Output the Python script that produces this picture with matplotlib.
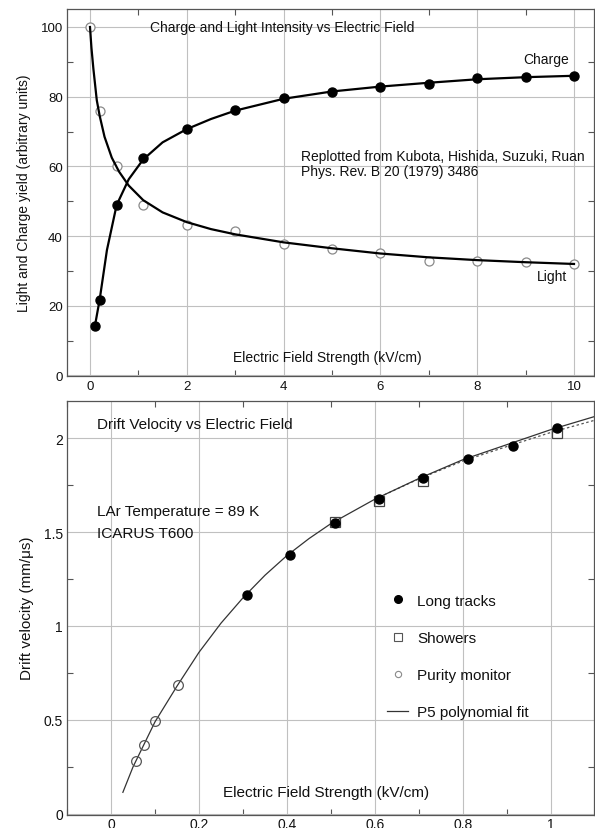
import matplotlib
matplotlib.use('Agg')
import matplotlib.pyplot as plt
from matplotlib.lines import Line2D
from matplotlib.ticker import MultipleLocator, FuncFormatter

plt.rcParams['font.family'] = ['Liberation Sans', 'DejaVu Sans']

# ---- top panel: charge / light yield vs field (Kubota et al.)
charge_x = [0.1, 0.2, 0.55, 1.1, 2, 3, 4, 5, 6, 7, 8, 9, 10]
charge_y = [14.1, 21.8, 48.9, 62.4, 70.7, 76.2, 79.6, 81.3, 82.7, 83.6, 85.4, 85.6, 86.0]

light_x = [0, 0.2, 0.55, 1.1, 2, 3, 4, 5, 6, 7, 8, 9, 10]
light_y = [100, 75.8, 60.2, 48.9, 43.2, 41.6, 37.7, 36.3, 35.2, 32.9, 32.9, 32.7, 32.0]

# curves drawn through the data
charge_fit_x = [0.1, 0.2, 0.35, 0.55, 0.8, 1.1, 1.5, 2, 2.5, 3, 4, 5, 6, 7, 8, 9, 10]
charge_fit_y = [14.1, 21.8, 36.0, 48.9, 56.3, 62.0, 66.9, 70.7, 73.6, 76.0, 79.4, 81.5, 82.9, 84.0, 85.0, 85.6, 86.0]
light_fit_x = [0, 0.03, 0.07, 0.14, 0.2, 0.3, 0.45, 0.6, 0.8, 1.1, 1.5, 2, 2.5, 3, 4, 5, 6, 7, 8, 9, 10]
light_fit_y = [100, 94, 88, 79, 74.5, 68.5, 62.5, 58.5, 54.5, 50.3, 46.8, 44.0, 42.0, 40.5, 38.2, 36.5, 35.0, 33.9, 33.1, 32.5, 32.0]

# ---- bottom panel: drift velocity vs field (ICARUS T600)
tracks_x = [0.308, 0.407, 0.508, 0.608, 0.71, 0.812, 0.913, 1.013]
tracks_y = [1.163, 1.378, 1.546, 1.676, 1.787, 1.888, 1.959, 2.052]

showers_x = [0.508, 0.608, 0.71, 1.013]
showers_y = [1.555, 1.663, 1.773, 2.027]

purity_x = [0.057, 0.076, 0.101, 0.153]
purity_y = [0.280, 0.369, 0.493, 0.688]

p5_x = [0.027, 0.05, 0.075, 0.1, 0.15, 0.2, 0.25, 0.3, 0.35, 0.4, 0.45, 0.5,
        0.6, 0.7, 0.8, 0.9, 1.0, 1.1]
p5_y = [0.115, 0.25, 0.37, 0.49, 0.68, 0.86, 1.015, 1.15, 1.27, 1.375, 1.465, 1.545,
        1.675, 1.785, 1.885, 1.965, 2.045, 2.115]
p5b_x = [0.6, 0.7, 0.8, 0.9, 1.0, 1.1]
p5b_y = [1.675, 1.783, 1.878, 1.955, 2.03, 2.095]

fig = plt.figure(figsize=(5.95, 8.29), dpi=100)
W, H = 595.0, 829.0

grid_c = '#c0c0c0'
spine_c = '#555555'
txt_c = '#111111'


def style(ax, lsize):
    ax.grid(True, which='major', color=grid_c, lw=0.8)
    ax.set_axisbelow(True)
    for s in ax.spines.values():
        s.set_color(spine_c)
        s.set_linewidth(0.9)
    ax.tick_params(which='both', direction='in', top=True, right=True, colors=spine_c,
                   labelcolor=txt_c, labelsize=lsize, pad=3)
    ax.tick_params(which='major', length=0)
    ax.tick_params(which='minor', length=4, width=0.8)


# top axes: x=0 at px 90, 48.4 px/unit ; y=0 at px 376.5, 3.485 px/unit
ax1 = fig.add_axes([67 / W, 1 - 377 / H, 527 / W, 367 / H])
ax1.set_xlim((67 - 90) / 48.4, (594 - 90) / 48.4)
ax1.set_ylim(-0.15, (376.5 - 10) / 3.485)
ax1.xaxis.set_major_locator(MultipleLocator(2))
ax1.xaxis.set_minor_locator(MultipleLocator(1))
ax1.yaxis.set_major_locator(MultipleLocator(20))
ax1.yaxis.set_minor_locator(MultipleLocator(10))
style(ax1, 9.5)

ax1.plot(charge_fit_x, charge_fit_y, color='black', lw=1.6, zorder=2)
ax1.plot(light_fit_x, light_fit_y, color='black', lw=1.6, zorder=2)
ax1.plot(charge_x, charge_y, 'o', ms=6.5, color='black', zorder=3)
ax1.plot(light_x, light_y, 'o', ms=6.5, mfc='white', mec='#8a8a8a', mew=0.9, zorder=1.5)

fs1 = 10
ax1.set_ylabel('Light and Charge yield (arbitrary units)', fontsize=fs1, color=txt_c, labelpad=7)
ax1.text(1.25, 100, 'Charge and Light Intensity vs Electric Field', fontsize=fs1, va='center', color=txt_c)
ax1.text(9.9, 90.8, 'Charge', fontsize=fs1, ha='right', va='center', color=txt_c)
ax1.text(9.85, 28.5, 'Light', fontsize=fs1, ha='right', va='center', color=txt_c)
ax1.text(4.36, 63.1, 'Replotted from Kubota, Hishida, Suzuki, Ruan', fontsize=fs1, va='center', color=txt_c)
ax1.text(4.36, 58.6, 'Phys. Rev. B 20 (1979) 3486', fontsize=fs1, va='center', color=txt_c)
ax1.text(2.95, 5.2, 'Electric Field Strength (kV/cm)', fontsize=fs1, va='center', color=txt_c)

# bottom axes: x=0 at px 111, 440 px/unit ; y=0 at px 815, 188 px/unit
ax2 = fig.add_axes([67 / W, 1 - 815.5 / H, 527 / W, 413.5 / H])
ax2.set_xlim((67 - 111) / 440, (594 - 111) / 440)
ax2.set_ylim(-0.003, 2.197)
ax2.xaxis.set_major_locator(MultipleLocator(0.2))
ax2.xaxis.set_minor_locator(MultipleLocator(0.1))
ax2.yaxis.set_major_locator(MultipleLocator(0.5))
ax2.yaxis.set_minor_locator(MultipleLocator(0.25))
ax2.xaxis.set_major_formatter(FuncFormatter(lambda v, p: '%g' % round(v, 2)))
ax2.yaxis.set_major_formatter(FuncFormatter(lambda v, p: '%g' % round(v, 2)))
style(ax2, 10)
ax2.tick_params(axis='x', pad=1.5)

ax2.plot(p5b_x, p5b_y, color='#555555', lw=0.9, ls=(0, (2, 2)), zorder=2)
ax2.plot(p5_x, p5_y, color='#333333', lw=0.9, zorder=2)
ax2.plot(showers_x, showers_y, 's', ms=7.5, mfc='none', mec='#444444', mew=0.9, zorder=3)
ax2.plot(tracks_x, tracks_y, 'o', ms=6.5, color='black', zorder=4)
ax2.plot(purity_x, purity_y, 'o', ms=7, mfc='none', mec='#555555', mew=0.9, zorder=3)

fs2 = 11
ax2.set_ylabel('Drift velocity (mm/\u03bcs)', fontsize=fs2, color=txt_c, labelpad=7)
ax2.text(-0.032, 2.074, 'Drift Velocity vs Electric Field', fontsize=fs2, va='center', color=txt_c)
ax2.text(-0.032, 1.61, 'LAr Temperature = 89 K', fontsize=fs2, va='center', color=txt_c)
ax2.text(-0.032, 1.495, 'ICARUS T600', fontsize=fs2, va='center', color=txt_c)
ax2.text(0.255, 0.119, 'Electric Field Strength (kV/cm)', fontsize=fs2, va='center', color=txt_c)

handles = [
    Line2D([], [], ls='none', marker='o', ms=5.5, color='black'),
    Line2D([], [], ls='none', marker='s', ms=5.5, mfc='none', mec='#555555', mew=0.8),
    Line2D([], [], ls='none', marker='o', ms=4.5, mfc='none', mec='#8a8a8a', mew=0.8),
    Line2D([], [], color='#333333', lw=0.9),
]
labels = ['Long tracks', 'Showers', 'Purity monitor', 'P5 polynomial fit']
ax2.legend(handles, labels, loc='upper left', bbox_to_anchor=(0.607, 0.534), frameon=False,
           fontsize=fs2, labelspacing=1.52, handlelength=1.4, handletextpad=0.6,
           borderpad=0, borderaxespad=0, labelcolor=txt_c)

fig.savefig('out.png', dpi=100)
